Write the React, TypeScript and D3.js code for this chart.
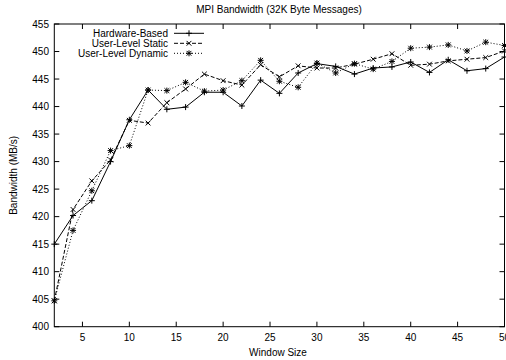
import React from 'react';
import { scaleLinear, line } from 'd3';

const windowSizes = [2, 4, 6, 8, 10, 12, 14, 16, 18, 20, 22, 24, 26, 28, 30, 32, 34, 36, 38, 40, 42, 44, 46, 48, 50];
const hardwareBased = [415.0, 420.2, 422.9, 430.0, 437.6, 443.0, 439.5, 439.9, 442.6, 442.6, 440.1, 444.8, 442.4, 446.1, 447.8, 447.3, 445.9, 447.0, 447.2, 448.1, 446.2, 448.5, 446.5, 446.9, 449.0];
const userStatic = [404.7, 421.3, 426.5, 430.3, 437.5, 437.0, 440.7, 443.2, 445.9, 444.7, 443.9, 447.6, 445.4, 447.4, 447.0, 447.0, 447.7, 448.6, 449.6, 447.5, 447.7, 448.3, 448.6, 448.9, 450.1];
const userDynamic = [404.7, 417.5, 424.7, 432.0, 432.9, 443.0, 442.9, 444.4, 442.8, 443.0, 444.7, 448.4, 444.6, 443.5, 447.9, 446.1, 447.8, 446.8, 448.2, 450.6, 450.8, 451.2, 450.1, 451.7, 451.1];
const seriesNames = ['Hardware-Based', 'User-Level Static', 'User-Level Dynamic'];
const xTicks = [5, 10, 15, 20, 25, 30, 35, 40, 45, 50];
const yTicks = [400, 405, 410, 415, 420, 425, 430, 435, 440, 445, 450, 455];

const W = 506;
const H = 360;
const left = 54.3;
const right = 504.5;
const top = 24;
const bottom = 326.7;
const font = 'Liberation Sans, Arial, Helvetica, sans-serif';

const x = scaleLinear().domain([2, 50]).range([left, right]);
const y = scaleLinear().domain([400, 455]).range([bottom, top]);

const dashes = [undefined, '4,2', '1,2'];

function Marker({ cx, cy, kind }: { cx: number; cy: number; kind: number }) {
  const r = 3;
  const plus = `M${cx - r},${cy}H${cx + r}M${cx},${cy - r}V${cy + r}`;
  const cross = `M${cx - r * 0.8},${cy - r * 0.8}L${cx + r * 0.8},${cy + r * 0.8}M${cx - r * 0.8},${cy + r * 0.8}L${cx + r * 0.8},${cy - r * 0.8}`;
  const d = kind === 0 ? plus : kind === 1 ? cross : plus + cross;
  return <path d={d} stroke="#000" strokeWidth={1} fill="none" />;
}

export default function App() {
  const all = [hardwareBased, userStatic, userDynamic];
  const gen = line<number>()
    .x((_, i) => x(windowSizes[i]))
    .y((v) => y(v));

  return (
    <div style={{ position: 'absolute', left: 0, top: 0 }}>
      <svg width={W} height={H} style={{ display: 'block', background: '#fff' }} fontFamily={font}>
        <rect x={0} y={0} width={W} height={H} fill="#fff" />
        <text x={279} y={13} fontSize={10} textAnchor="middle">MPI Bandwidth (32K Byte Messages)</text>

        {/* ticks (mirrored, inward) */}
        {xTicks.map((t) => (
          <g key={'x' + t}>
            <line x1={x(t)} x2={x(t)} y1={bottom} y2={bottom - 5} stroke="#000" />
            <line x1={x(t)} x2={x(t)} y1={top} y2={top + 5} stroke="#000" />
            <text x={x(t)} y={341} fontSize={10} textAnchor="middle">{t}</text>
          </g>
        ))}
        {yTicks.map((t) => (
          <g key={'y' + t}>
            <line x1={left} x2={left + 5} y1={y(t)} y2={y(t)} stroke="#000" />
            <line x1={right} x2={right - 5} y1={y(t)} y2={y(t)} stroke="#000" />
            <text x={49} y={y(t) + 3.5} fontSize={10} textAnchor="end">{t}</text>
          </g>
        ))}
        <rect x={left} y={top} width={right - left} height={bottom - top} fill="none" stroke="#000" strokeWidth={1} />

        <text x={278} y={356} fontSize={10} textAnchor="middle">Window Size</text>
        <text transform={`translate(17,${(top + bottom) / 2}) rotate(-90)`} fontSize={10} textAnchor="middle">Bandwidth (MB/s)</text>

        {all.map((vals, s) => (
          <g key={s}>
            <path d={gen(vals) || ''} fill="none" stroke="#000" strokeWidth={1} strokeDasharray={dashes[s]} />
            {vals.map((v, i) => (
              <Marker key={i} cx={x(windowSizes[i])} cy={y(v)} kind={s} />
            ))}
          </g>
        ))}

        {/* legend */}
        {seriesNames.map((name, s) => {
          const ly = 33.3 + s * 10;
          return (
            <g key={name}>
              <text x={168} y={ly + 3.5} fontSize={10} textAnchor="end">{name}</text>
              <line x1={174} x2={204} y1={ly} y2={ly} stroke="#000" strokeDasharray={dashes[s]} />
              <Marker cx={189} cy={ly} kind={s} />
            </g>
          );
        })}
      </svg>
    </div>
  );
}
